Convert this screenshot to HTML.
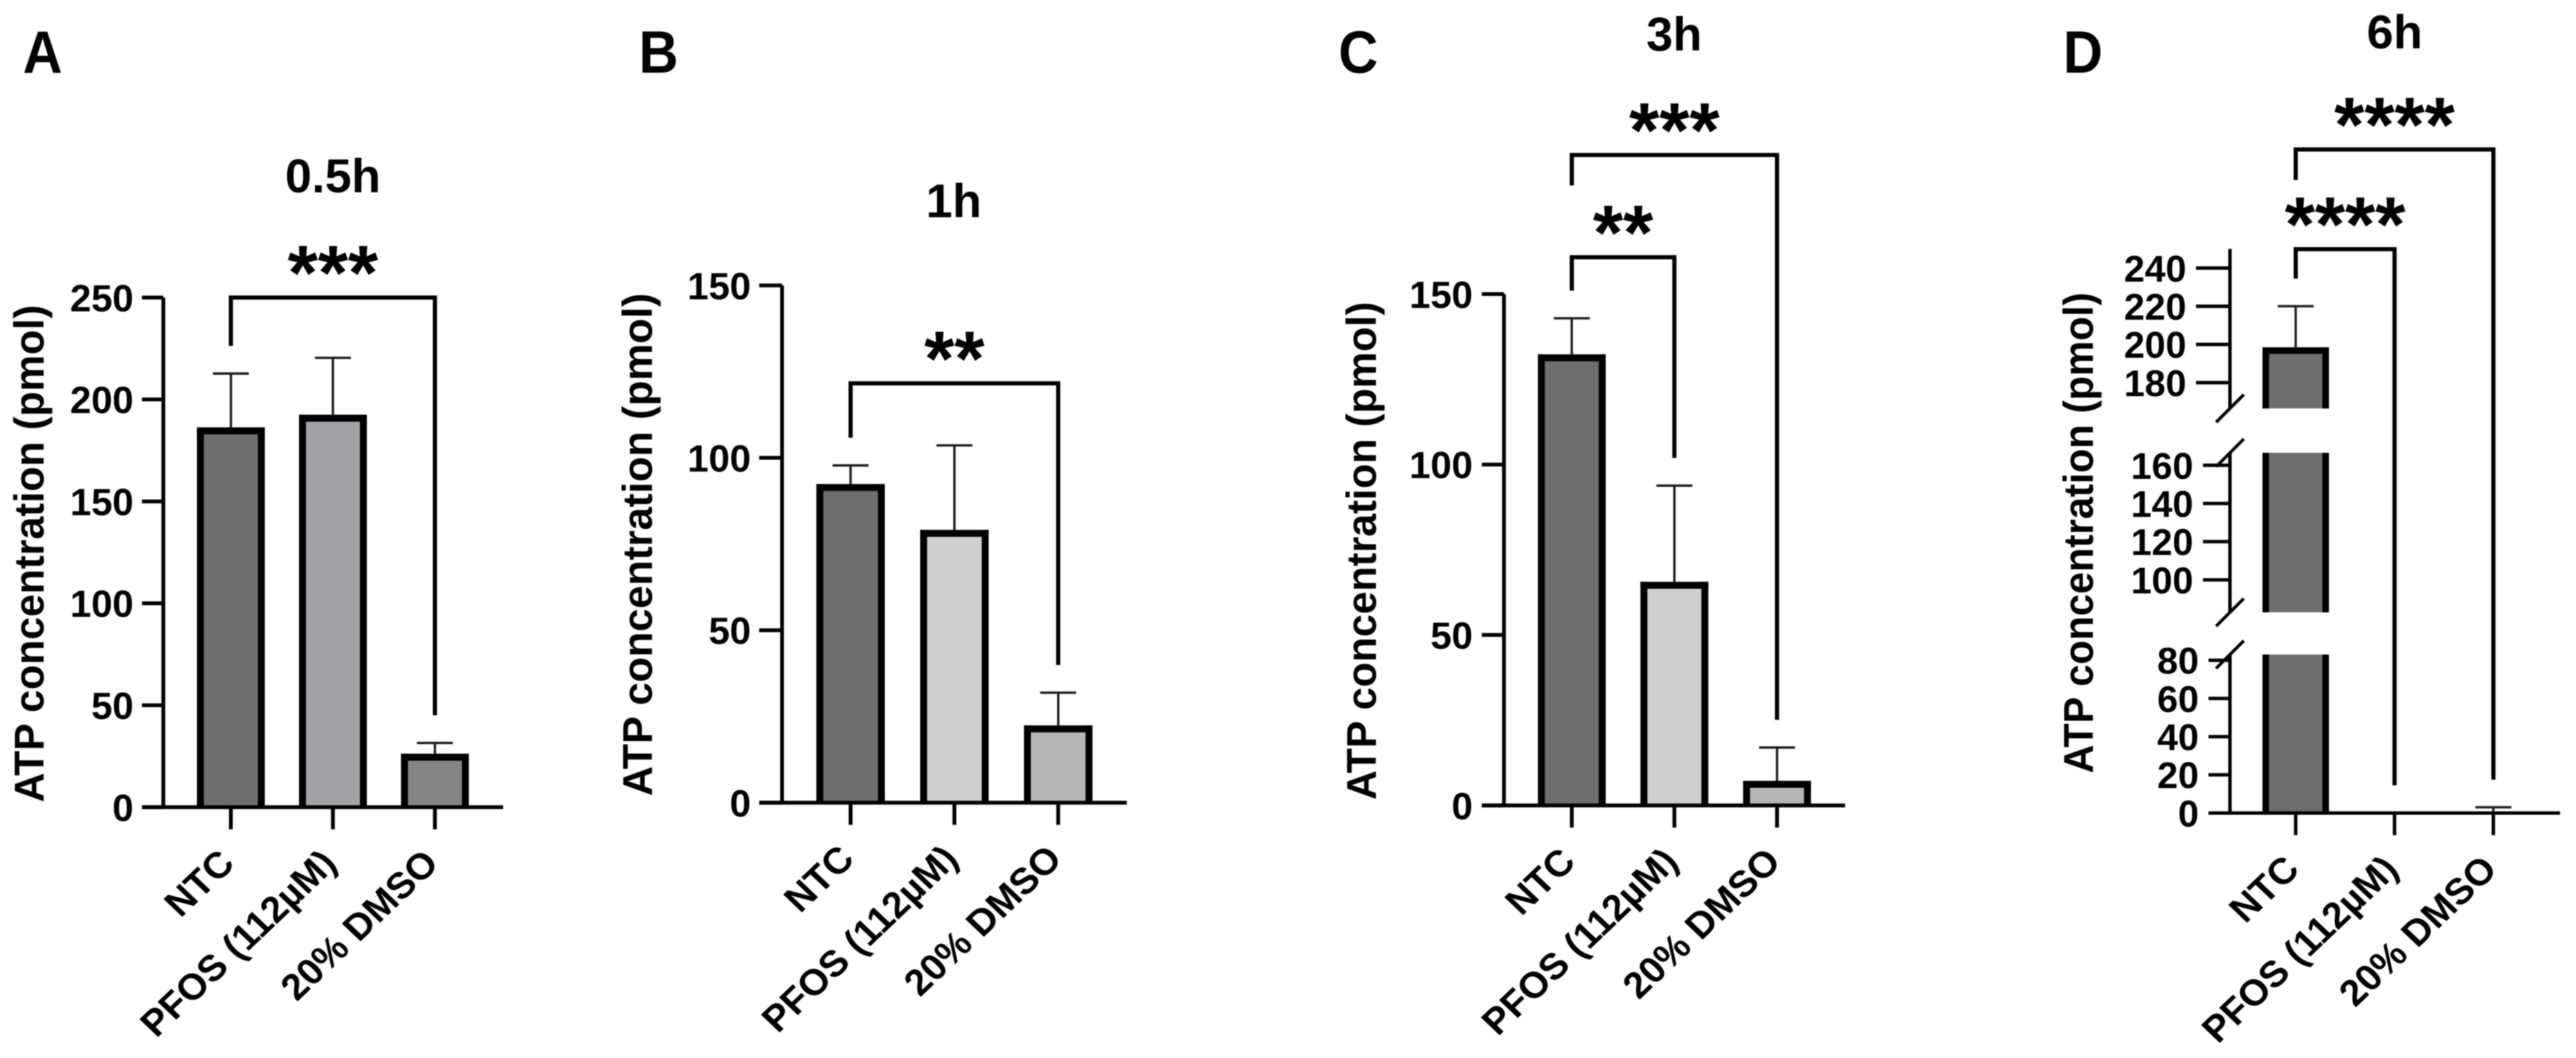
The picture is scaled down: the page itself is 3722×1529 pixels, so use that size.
<!DOCTYPE html>
<html lang="en">
<head>
<meta charset="utf-8">
<title>ATP concentration over time</title>
<style>
html,body{margin:0;padding:0;background:#fff;}
svg{display:block;filter:blur(.7px);}
text{font-family:"Liberation Sans",Arial,sans-serif;font-weight:bold;fill:#000;}
.letter{font-size:86px;}
.title{font-size:69px;text-anchor:middle;}
.ytitle{font-size:60px;text-anchor:middle;}
</style>
</head>
<body>
<svg id="figure" xmlns="http://www.w3.org/2000/svg" width="3722" height="1529" viewBox="0 0 3722 1529">
  <rect x="0" y="0" width="3722" height="1529" fill="#fff"/>

  <g id="panel-a">
    <text class="letter" transform="translate(33 105) scale(.92 1)">A</text>
    <text class="title" x="481" y="278">0.5h</text>
    <text class="ytitle" transform="translate(63 800) rotate(-90)" textLength="719" lengthAdjust="spacingAndGlyphs">ATP concentration (pmol)</text>
  </g>
  <g id="panel-b">
    <text class="letter" transform="translate(923 105) scale(.92 1)">B</text>
    <text class="title" x="1378" y="314">1h</text>
    <text class="ytitle" transform="translate(942 787) rotate(-90)" textLength="727" lengthAdjust="spacingAndGlyphs">ATP concentration (pmol)</text>
  </g>
  <g id="panel-c">
    <text class="letter" transform="translate(1934 105) scale(.92 1)">C</text>
    <text class="title" x="2419" y="73">3h</text>
    <text class="ytitle" transform="translate(1988 796) rotate(-90)" textLength="720" lengthAdjust="spacingAndGlyphs">ATP concentration (pmol)</text>
  </g>
  <g id="panel-d">
    <text class="letter" transform="translate(2981 105) scale(.92 1)">D</text>
    <text class="title" x="3460" y="70">6h</text>
    <text class="ytitle" transform="translate(3024 770) rotate(-90)" textLength="695" lengthAdjust="spacingAndGlyphs">ATP concentration (pmol)</text>
  </g>
</svg>

<script>
// ---- data ----
const categories = ['NTC', 'PFOS (112µM)', '20% DMSO'];

const ticksA = [0, 50, 100, 150, 200, 250];
const meansA = [186.3, 192.5, 26.2];
const errorTopsA = [212.7, 220.4, 31.5];
const comparisonFromA = [0];
const comparisonToA = [2];
const comparisonLevelA = [250];
const comparisonStarsA = ['***'];
const comparisonStackedA = [false];

const ticksB = [0, 50, 100, 150];
const meansB = [92.4, 79.1, 22.4];
const errorTopsB = [97.8, 103.6, 31.9];
const comparisonFromB = [0];
const comparisonToB = [2];
const comparisonLevelB = [121.6];
const comparisonStarsB = ['**'];
const comparisonStackedB = [false];

const ticksC = [0, 50, 100, 150];
const meansC = [132.3, 65.6, 7.2];
const errorTopsC = [142.9, 93.8, 17];
const comparisonFromC = [0, 0];
const comparisonToC = [1, 2];
const comparisonLevelC = [160.8, 190.8];
const comparisonStarsC = ['**', '***'];
const comparisonStackedC = [false, true];

const ticksD = [0, 20, 40, 60, 80, 100, 120, 140, 160, 180, 200, 220, 240];
const meansD = [198.5, 0, 1];
const errorTopsD = [220, 0, 3];
const comparisonFromD = [0, 0];
const comparisonToD = [1, 2];
const comparisonLevelD = [249.9, 302.1];
const comparisonStarsD = ['****', '****'];
const comparisonStackedD = [false, true];
const axisBreaksD = [83, 166.5];

// ---- drawing helpers ----
const NS = 'http://www.w3.org/2000/svg';
function make(parent, tag) {
  const el = document.createElementNS(NS, tag);
  parent.appendChild(el);
  return el;
}
function line(parent, x1, y1, x2, y2, w) {
  const el = make(parent, 'line');
  el.setAttribute('x1', x1);
  el.setAttribute('y1', y1);
  el.setAttribute('x2', x2);
  el.setAttribute('y2', y2);
  el.setAttribute('stroke', '#000');
  el.setAttribute('stroke-width', w);
  return el;
}
function box(parent, x, y, w, h, fill) {
  const el = make(parent, 'rect');
  el.setAttribute('x', x);
  el.setAttribute('y', y);
  el.setAttribute('width', Math.max(0, w));
  el.setAttribute('height', Math.max(0, h));
  el.setAttribute('fill', fill);
  return el;
}
function label(parent, x, y, size, anchor, str) {
  const el = make(parent, 'text');
  el.setAttribute('x', x);
  el.setAttribute('y', y);
  el.setAttribute('font-size', size);
  el.setAttribute('text-anchor', anchor);
  el.textContent = str;
  return el;
}
function linearScale(d0, d1, r0, r1) {
  return function (v) { return r0 + (v - d0) * (r1 - r0) / (d1 - d0); };
}

// ---- one panel ----
function drawPanel(spec) {
  const g = document.getElementById(spec.id);
  const y = spec.y;
  const y0 = y(0);
  const x = function (i) { return spec.firstX + i * spec.stepX; };
  const segments = spec.segments;

  // bars
  spec.means.forEach(function (value, i) {
    const left = x(i) - spec.barW / 2;
    const top = y(value);
    if (value < 2) return;
    segments.forEach(function (seg) {
      if (seg.from >= value) return;
      const segTop = y(Math.min(seg.to, value));
      const segBottom = y(seg.from);
      const fill = box(g, left, segTop, spec.barW, segBottom - segTop, spec.fills[i]);
      
      
      const sideL = box(g, left, segTop, spec.border, segBottom - segTop, '#000');
      
      
      const sideR = box(g, left + spec.barW - spec.border, segTop, spec.border, segBottom - segTop, '#000');
      
      
    });
    const cap = box(g, left, top, spec.barW, spec.border, '#000');
    
    
  });

  // error bars
  spec.errorTops.forEach(function (value, i) {
    if (value <= 0) return;
    const stem = line(g, x(i), y(spec.means[i]), x(i), y(value), 3.4);
    stem.setAttribute('stroke', '#1c1c1c');
    
    
    const whisker = line(g, x(i) - 26, y(value), x(i) + 26, y(value), 3.4);
    whisker.setAttribute('stroke', '#1c1c1c');
    
    
  });

  // y axis (one stroke per segment, with break slashes)
  segments.forEach(function (seg, s) {
    const top = s === segments.length - 1 ? y(spec.axisTop) : y(seg.to);
    const axis = line(g, spec.axisX, y(seg.from) + (s === 0 ? 2.5 : 0), spec.axisX, top, spec.axisW);
    
    
    if (s > 0) {
      const slash = line(g, spec.axisX - 20, y(seg.from) + 20, spec.axisX + 20, y(seg.from) - 20, 4.5);
      
      
    }
    if (s < segments.length - 1) {
      const slash2 = line(g, spec.axisX - 20, y(seg.to) + 20, spec.axisX + 20, y(seg.to) - 20, 4.5);
      
      
    }
  });

  // y ticks
  spec.ticks.forEach(function (value) {
    const seg = segments.findIndex(function (sg) { return value >= sg.from && value <= sg.to; });
    const tickLeft = spec.tickLefts[seg === -1 ? segments.length - 1 : seg];
    const tick = line(g, tickLeft, y(value), spec.axisX, y(value), spec.axisW);
    
    
    const text = label(g, tickLeft - spec.labelGap, y(value) + spec.tickFont * 0.36, spec.tickFont, 'end', String(value));
    
    
  });

  // x axis
  const xAxis = line(g, spec.tickLefts[0], y0, spec.axisRight, y0, spec.axisW);
  
  

  categories.forEach(function (name, i) {
    const tick = line(g, x(i), y0, x(i), y0 + 32, spec.axisW);
    
    
    const ax = x(i) + 8;
    const ay = y0 + 84;
    const text = label(g, 0, 0, 53, 'end', name);
    text.setAttribute('transform', 'translate(' + ax + ' ' + ay + ') scale(1.05 1) rotate(-45)');
    
    
  });

  // significance brackets
  spec.compFrom.forEach(function (from, k) {
    const to = spec.compTo[k];
    const level = y(spec.compLevel[k]);
    const fromEnd = spec.compStacked[k] ? level + 44 : y(spec.errorTops[from]) - 40;
    const toEnd = y(spec.errorTops[to]) - 40;
    const path = make(g, 'path');
    path.setAttribute('d', 'M' + x(from) + ' ' + fromEnd + 'V' + level + 'H' + x(to) + 'V' + toEnd);
    path.setAttribute('fill', 'none');
    path.setAttribute('stroke', '#000');
    path.setAttribute('stroke-width', 6);
    
    
    const stars = label(g, (x(from) + x(to)) / 2, level + 3, 112, 'middle', spec.compStars[k]);
    
    
  });
}

// ---- axis functions ----
const yA = linearScale(0, 250, 1166.5, 430);
const yB = linearScale(0, 150, 1160, 412.5);
const yC = linearScale(0, 150, 1164, 425);
const slopeD = 2.76;
const yD = function (v) {
  if (v <= axisBreaksD[0]) return 1175 - v * slopeD;
  if (v <= axisBreaksD[1]) return 838 - (v - 100) * slopeD;
  return 553 - (v - 180) * slopeD;
};

const darkFill = '#6e6e6e';

drawPanel({
  id: 'panel-a', y: yA, firstX: 333.6, stepX: 147.4, barW: 98, border: 10, axisX: 236, axisW: 5.5,
  axisRight: 727, axisTop: 250, tickLefts: [205], labelGap: 12, tickFont: 55,
  segments: [{ from: 0, to: 250 }],
  fills: [darkFill, '#a3a3a7', '#858585'],
  ticks: ticksA, means: meansA, errorTops: errorTopsA,
  compFrom: comparisonFromA, compTo: comparisonToA, compLevel: comparisonLevelA,
  compStars: comparisonStarsA, compStacked: comparisonStackedA
});
drawPanel({
  id: 'panel-b', y: yB, firstX: 1229, stepX: 150, barW: 99, border: 10, axisX: 1130, axisW: 5.5,
  axisRight: 1628, axisTop: 150, tickLefts: [1097], labelGap: 12, tickFont: 55,
  segments: [{ from: 0, to: 150 }],
  fills: [darkFill, '#cfcfd1', '#b5b5b5'],
  ticks: ticksB, means: meansB, errorTops: errorTopsB,
  compFrom: comparisonFromB, compTo: comparisonToB, compLevel: comparisonLevelB,
  compStars: comparisonStarsB, compStacked: comparisonStackedB
});
drawPanel({
  id: 'panel-c', y: yC, firstX: 2271, stepX: 148.3, barW: 98, border: 10, axisX: 2173, axisW: 5.5,
  axisRight: 2666, axisTop: 150, tickLefts: [2141], labelGap: 13, tickFont: 55,
  segments: [{ from: 0, to: 150 }],
  fills: [darkFill, '#cfcfd1', '#b5b5b5'],
  ticks: ticksC, means: meansC, errorTops: errorTopsC,
  compFrom: comparisonFromC, compTo: comparisonToC, compLevel: comparisonLevelC,
  compStars: comparisonStarsC, compStacked: comparisonStackedC
});
drawPanel({
  id: 'panel-d', y: yD, firstX: 3317, stepX: 142.8, barW: 96, border: 9.5, axisX: 3222, axisW: 5,
  axisRight: 3699, axisTop: 250, tickLefts: [3191, 3183, 3173], labelGap: 14, tickFont: 54,
  segments: [
    { from: 0, to: axisBreaksD[0] },
    { from: axisBreaksD[0] + 0.001, to: axisBreaksD[1] },
    { from: axisBreaksD[1] + 0.001, to: 250 }
  ],
  fills: [darkFill, '#cfcfd1', '#b5b5b5'],
  ticks: ticksD, means: meansD, errorTops: errorTopsD,
  compFrom: comparisonFromD, compTo: comparisonToD, compLevel: comparisonLevelD,
  compStars: comparisonStarsD, compStacked: comparisonStackedD
});
</script>
</body>
</html>
